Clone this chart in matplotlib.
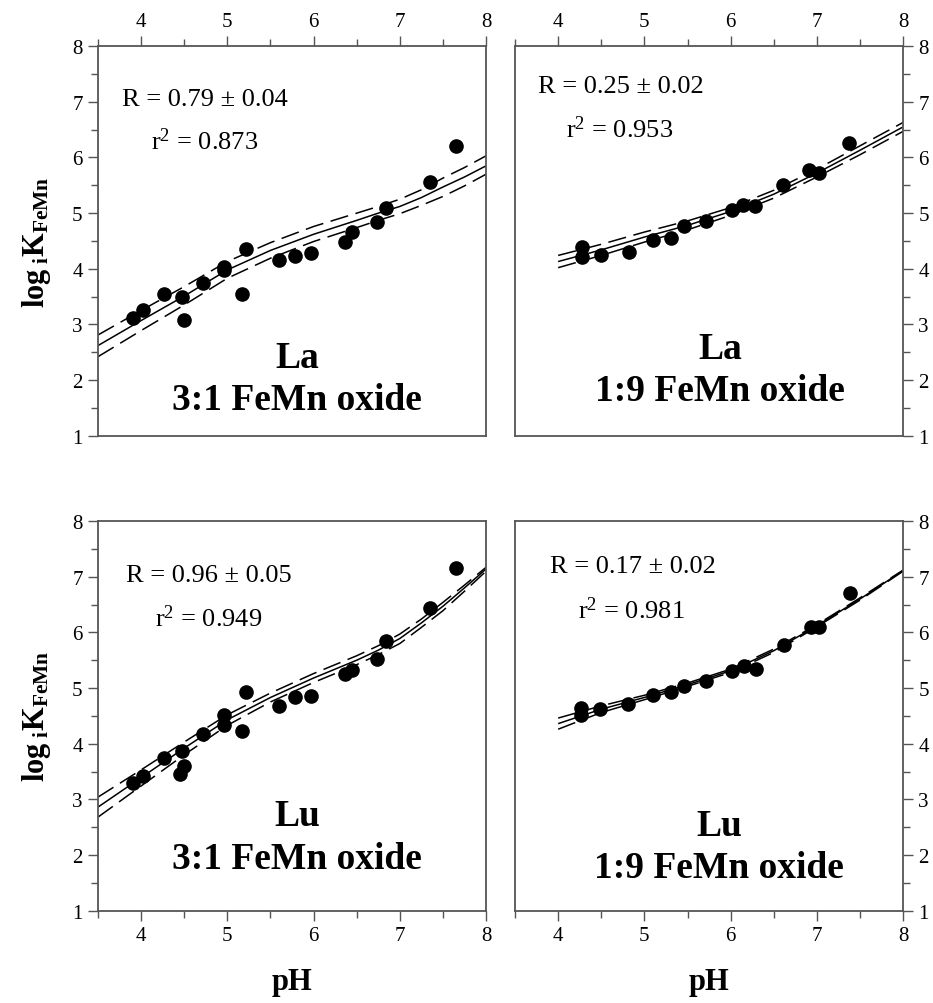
import matplotlib
matplotlib.use("Agg")
import matplotlib.pyplot as plt
from matplotlib.ticker import MultipleLocator

plt.rcParams['font.family'] = ['Liberation Serif', 'DejaVu Serif']
plt.rcParams['mathtext.fontset'] = 'custom'
plt.rcParams['mathtext.rm'] = 'Liberation Serif'
plt.rcParams['mathtext.it'] = 'Liberation Serif:italic'
plt.rcParams['mathtext.bf'] = 'Liberation Serif:bold'

# ---------------- data ----------------
# La, 3:1 FeMn oxide
la31_ph = [3.91, 4.02, 4.26, 4.48, 4.50, 4.72, 4.96, 4.96, 5.17, 5.22,
           5.60, 5.78, 5.97, 6.36, 6.45, 6.74, 6.84, 7.35, 7.65]
la31_logk = [3.11, 3.26, 3.545, 3.50, 3.08, 3.74, 4.04, 3.98, 3.545, 4.35,
             4.16, 4.23, 4.29, 4.49, 4.67, 4.84, 5.10, 5.56, 6.20]
la31_fit_ph = [3.5, 4.0, 4.5, 5.0, 5.5, 6.0, 6.5, 6.75, 7.0, 7.25, 7.5, 7.75, 8.0]
la31_fit = [2.62, 3.07, 3.51, 3.98, 4.33, 4.62, 4.87, 5.00, 5.12, 5.28, 5.47, 5.65, 5.85]
la31_up = [2.81, 3.25, 3.68, 4.13, 4.47, 4.76, 5.00, 5.12, 5.25, 5.42, 5.63, 5.82, 6.03]
la31_lo = [2.42, 2.89, 3.35, 3.83, 4.19, 4.49, 4.74, 4.87, 4.99, 5.14, 5.30, 5.49, 5.70]

# La, 1:9 FeMn oxide
la19_ph = [4.275, 4.275, 4.50, 4.82, 5.10, 5.31, 5.46, 5.71, 6.01, 6.14,
           6.28, 6.61, 6.91, 7.03, 7.37]
la19_logk = [4.39, 4.21, 4.25, 4.30, 4.52, 4.55, 4.76, 4.86, 5.06, 5.15,
             5.12, 5.50, 5.77, 5.73, 6.26]
la19_fit_ph = [4.0, 4.5, 5.0, 5.5, 6.0, 6.5, 7.0, 7.5, 8.0]
la19_fit = [4.13, 4.34, 4.57, 4.78, 5.03, 5.34, 5.72, 6.13, 6.55]
la19_up = [4.24, 4.44, 4.66, 4.86, 5.10, 5.41, 5.79, 6.21, 6.63]
la19_lo = [4.02, 4.24, 4.48, 4.70, 4.96, 5.27, 5.65, 6.05, 6.47]

# Lu, 3:1 FeMn oxide
lu31_ph = [3.91, 4.02, 4.26, 4.48, 4.50, 4.45, 4.72, 4.96, 4.96, 5.17,
           5.22, 5.60, 5.78, 5.97, 6.36, 6.45, 6.74, 6.84, 7.35, 7.65]
lu31_logk = [3.30, 3.42, 3.74, 3.86, 3.60, 3.45, 4.18, 4.52, 4.33, 4.22,
             4.92, 4.67, 4.83, 4.86, 5.25, 5.33, 5.53, 5.84, 6.44, 7.15]
lu31_fit_ph = [3.5, 4.0, 4.5, 5.0, 5.5, 6.0, 6.5, 6.75, 7.0, 7.25, 7.5, 7.75, 8.0]
lu31_fit = [2.86, 3.39, 3.92, 4.43, 4.83, 5.18, 5.50, 5.68, 5.89, 6.17, 6.47, 6.80, 7.14]
lu31_up = [3.04, 3.53, 4.03, 4.52, 4.91, 5.26, 5.58, 5.76, 5.97, 6.24, 6.54, 6.85, 7.17]
lu31_lo = [2.68, 3.24, 3.80, 4.33, 4.75, 5.10, 5.42, 5.60, 5.80, 6.09, 6.39, 6.74, 7.10]

# Lu, 1:9 FeMn oxide
lu19_ph = [4.27, 4.27, 4.49, 4.81, 5.10, 5.31, 5.46, 5.72, 6.02, 6.15,
           6.29, 6.62, 6.93, 7.03, 7.38]
lu19_logk = [4.64, 4.51, 4.62, 4.71, 4.88, 4.92, 5.04, 5.13, 5.30, 5.40,
             5.34, 5.78, 6.10, 6.09, 6.70]
lu19_fit_ph = [4.0, 4.5, 5.0, 5.5, 6.0, 6.5, 7.0, 7.5, 8.0]
lu19_fit = [4.36, 4.62, 4.83, 5.06, 5.31, 5.67, 6.12, 6.60, 7.11]
lu19_up = [4.46, 4.68, 4.87, 5.09, 5.34, 5.70, 6.14, 6.62, 7.12]
lu19_lo = [4.26, 4.56, 4.79, 5.03, 5.28, 5.64, 6.10, 6.58, 7.10]

x_ticks = [4, 5, 6, 7, 8]
y_ticks = [1, 2, 3, 4, 5, 6, 7, 8]

panels = [
    dict(ph=la31_ph, k=la31_logk, fx=la31_fit_ph, f=la31_fit, up=la31_up, lo=la31_lo,
         R="R = 0.79 \u00b1 0.04", r2=r"r$^2$ = 0.873", el="La", ox="3:1 FeMn oxide",
         pos=[0.105, 0.565, 0.416, 0.388], top=True, left=True,
         Rxy=(3.775, 7.05), rxy=(4.12, 6.30), elxy=(5.81, 2.41), oxxy=(5.81, 1.66)),
    dict(ph=la19_ph, k=la19_logk, fx=la19_fit_ph, f=la19_fit, up=la19_up, lo=la19_lo,
         R="R = 0.25 \u00b1 0.02", r2=r"r$^2$ = 0.953", el="La", ox="1:9 FeMn oxide",
         pos=[0.552, 0.565, 0.416, 0.388], top=True, left=False,
         Rxy=(3.77, 7.29), rxy=(4.09, 6.51), elxy=(5.88, 2.56), oxxy=(5.88, 1.81)),
    dict(ph=lu31_ph, k=lu31_logk, fx=lu31_fit_ph, f=lu31_fit, up=lu31_up, lo=lu31_lo,
         R="R = 0.96 \u00b1 0.05", r2=r"r$^2$ = 0.949", el="Lu", ox="3:1 FeMn oxide",
         pos=[0.105, 0.092, 0.416, 0.388], top=False, left=True,
         Rxy=(3.83, 7.03), rxy=(4.16, 6.27), elxy=(5.81, 2.71), oxxy=(5.81, 1.93)),
    dict(ph=lu19_ph, k=lu19_logk, fx=lu19_fit_ph, f=lu19_fit, up=lu19_up, lo=lu19_lo,
         R="R = 0.17 \u00b1 0.02", r2=r"r$^2$ = 0.981", el="Lu", ox="1:9 FeMn oxide",
         pos=[0.552, 0.092, 0.416, 0.388], top=False, left=False,
         Rxy=(3.90, 7.19), rxy=(4.23, 6.41), elxy=(5.87, 2.53), oxxy=(5.87, 1.78)),
]

fig = plt.figure(figsize=(9.33, 10.04), dpi=100)
spine_col = '#555555'

for p in panels:
    ax = fig.add_axes(p['pos'])
    ax.set_xlim(3.5, 8)
    ax.set_ylim(1, 8)
    ax.plot(p['fx'], p['f'], color='black', lw=1.1, solid_capstyle='butt')
    ax.plot(p['fx'], p['up'], color='black', lw=1.1, dashes=(12, 5))
    ax.plot(p['fx'], p['lo'], color='black', lw=1.1, dashes=(12, 5))
    ax.plot(p['ph'], p['k'], 'o', color='black', markersize=9.5, zorder=5)

    for s in ax.spines.values():
        s.set_color(spine_col)
        s.set_linewidth(1.3)

    ax.xaxis.set_major_locator(plt.FixedLocator(x_ticks))
    ax.xaxis.set_minor_locator(MultipleLocator(0.5))
    ax.yaxis.set_major_locator(plt.FixedLocator(y_ticks))
    ax.yaxis.set_minor_locator(MultipleLocator(0.5))

    ax.tick_params(which='both', direction='out', color=spine_col, width=1.0,
                   labelsize=15)
    ax.tick_params(which='major', length=7, pad=4)
    ax.tick_params(which='minor', length=5)
    if p['top']:
        ax.tick_params(axis='x', which='both', top=True, bottom=False,
                       labeltop=True, labelbottom=False)
    else:
        ax.tick_params(axis='x', which='both', top=False, bottom=True,
                       labeltop=False, labelbottom=True)
        ax.set_xlabel('pH', fontsize=22, fontweight='bold', labelpad=16)
    if p['left']:
        ax.tick_params(axis='y', which='both', left=True, right=False,
                       labelleft=True, labelright=False)
        ax.set_ylabel(r"$\mathbf{log}_{\ \mathbf{i}}\mathbf{K}_{\mathbf{FeMn}}$",
                      fontsize=22, labelpad=14)
    else:
        ax.tick_params(axis='y', which='both', left=False, right=True,
                       labelleft=False, labelright=True)

    ax.set_xticklabels([str(v) for v in x_ticks])
    ax.set_yticklabels([str(v) for v in y_ticks])

    ax.text(p['Rxy'][0], p['Rxy'][1], p['R'], fontsize=19, ha='left', va='center')
    ax.text(p['rxy'][0], p['rxy'][1], p['r2'], fontsize=19, ha='left', va='center')
    ax.text(p['elxy'][0], p['elxy'][1], p['el'], fontsize=27, fontweight='bold',
            ha='center', va='center')
    ax.text(p['oxxy'][0], p['oxxy'][1], p['ox'], fontsize=27, fontweight='bold',
            ha='center', va='center')

fig.savefig('out.png', dpi=100)
